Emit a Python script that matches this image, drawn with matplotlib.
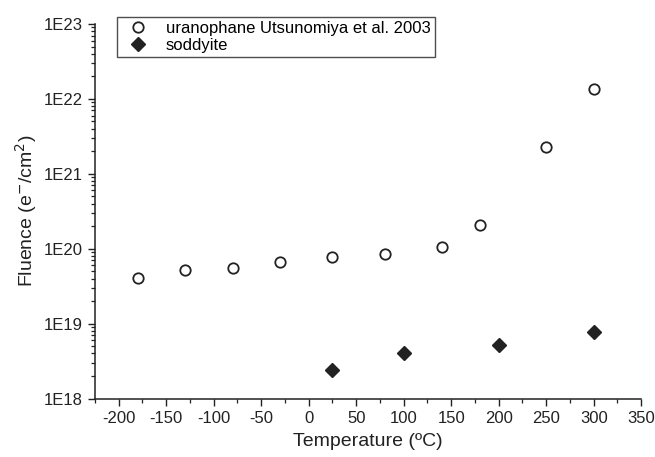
import math
import matplotlib
matplotlib.use("Agg")
import matplotlib.pyplot as plt
from matplotlib.ticker import FixedLocator, LogLocator, FuncFormatter, MultipleLocator

plt.rcParams["font.family"] = ["Liberation Sans", "DejaVu Sans"]
plt.rcParams["axes.unicode_minus"] = False

# uranophane (Utsunomiya et al. 2003)
ura_temp = [-180, -130, -80, -30, 25, 80, 140, 180, 250, 300]
ura_fluence = [4.1e19, 5.2e19, 5.6e19, 6.6e19, 7.8e19, 8.5e19, 1.04e20, 2.07e20, 2.3e21, 1.34e22]

# soddyite
sod_temp = [25, 100, 200, 300]
sod_fluence = [2.4e18, 4.0e18, 5.2e18, 7.8e18]

x_ticks = list(range(-200, 351, 50))
y_ticks = [1e18, 1e19, 1e20, 1e21, 1e22, 1e23]

fig = plt.figure(figsize=(6.55, 4.57), dpi=100)
ax = fig.add_axes([0.145, 0.128, 0.834, 0.8195])

ax.plot(ura_temp, ura_fluence, linestyle="none", marker="o", markersize=7.5,
        markerfacecolor="white", markeredgecolor="#222222", markeredgewidth=1.3,
        label="uranophane Utsunomiya et al. 2003")
ax.plot(sod_temp, sod_fluence, linestyle="none", marker="D", markersize=7,
        color="#222222", label="soddyite")

ax.set_yscale("log")
ax.set_xlim(-225, 350)
ax.set_ylim(1e18, 1e23)

ax.xaxis.set_major_locator(FixedLocator(x_ticks))
ax.xaxis.set_minor_locator(MultipleLocator(25))
ax.yaxis.set_major_locator(FixedLocator(y_ticks))
ax.yaxis.set_minor_locator(LogLocator(base=10, subs=range(2, 10), numticks=20))
ax.yaxis.set_major_formatter(FuncFormatter(lambda v, p: "1E%d" % round(math.log10(v))))
ax.yaxis.set_minor_formatter(FuncFormatter(lambda v, p: ""))

ax.spines["top"].set_visible(False)
ax.spines["right"].set_visible(False)
for s in ("left", "bottom"):
    ax.spines[s].set_linewidth(1.1)
    ax.spines[s].set_color("#222222")

ax.tick_params(which="major", direction="out", length=5, width=1.0, labelsize=12,
               colors="#222222", pad=4)
ax.tick_params(which="minor", direction="out", length=3, width=0.9, colors="#222222")

ax.set_xlabel("Temperature (ºC)", fontsize=14, color="#222222", labelpad=5)
ax.set_ylabel("Fluence (e$^{-}$/cm$^{2}$)", fontsize=14, color="#222222", labelpad=3)

leg = ax.legend(loc="upper left", bbox_to_anchor=(0.04, 1.019), fontsize=12,
                frameon=True, fancybox=False, borderpad=0.25, handletextpad=0.7,
                labelspacing=0.1, handlelength=2.0, borderaxespad=0)
leg.get_frame().set_edgecolor("#222222")
leg.get_frame().set_linewidth(1.0)

fig.savefig("out.png", dpi=100)
